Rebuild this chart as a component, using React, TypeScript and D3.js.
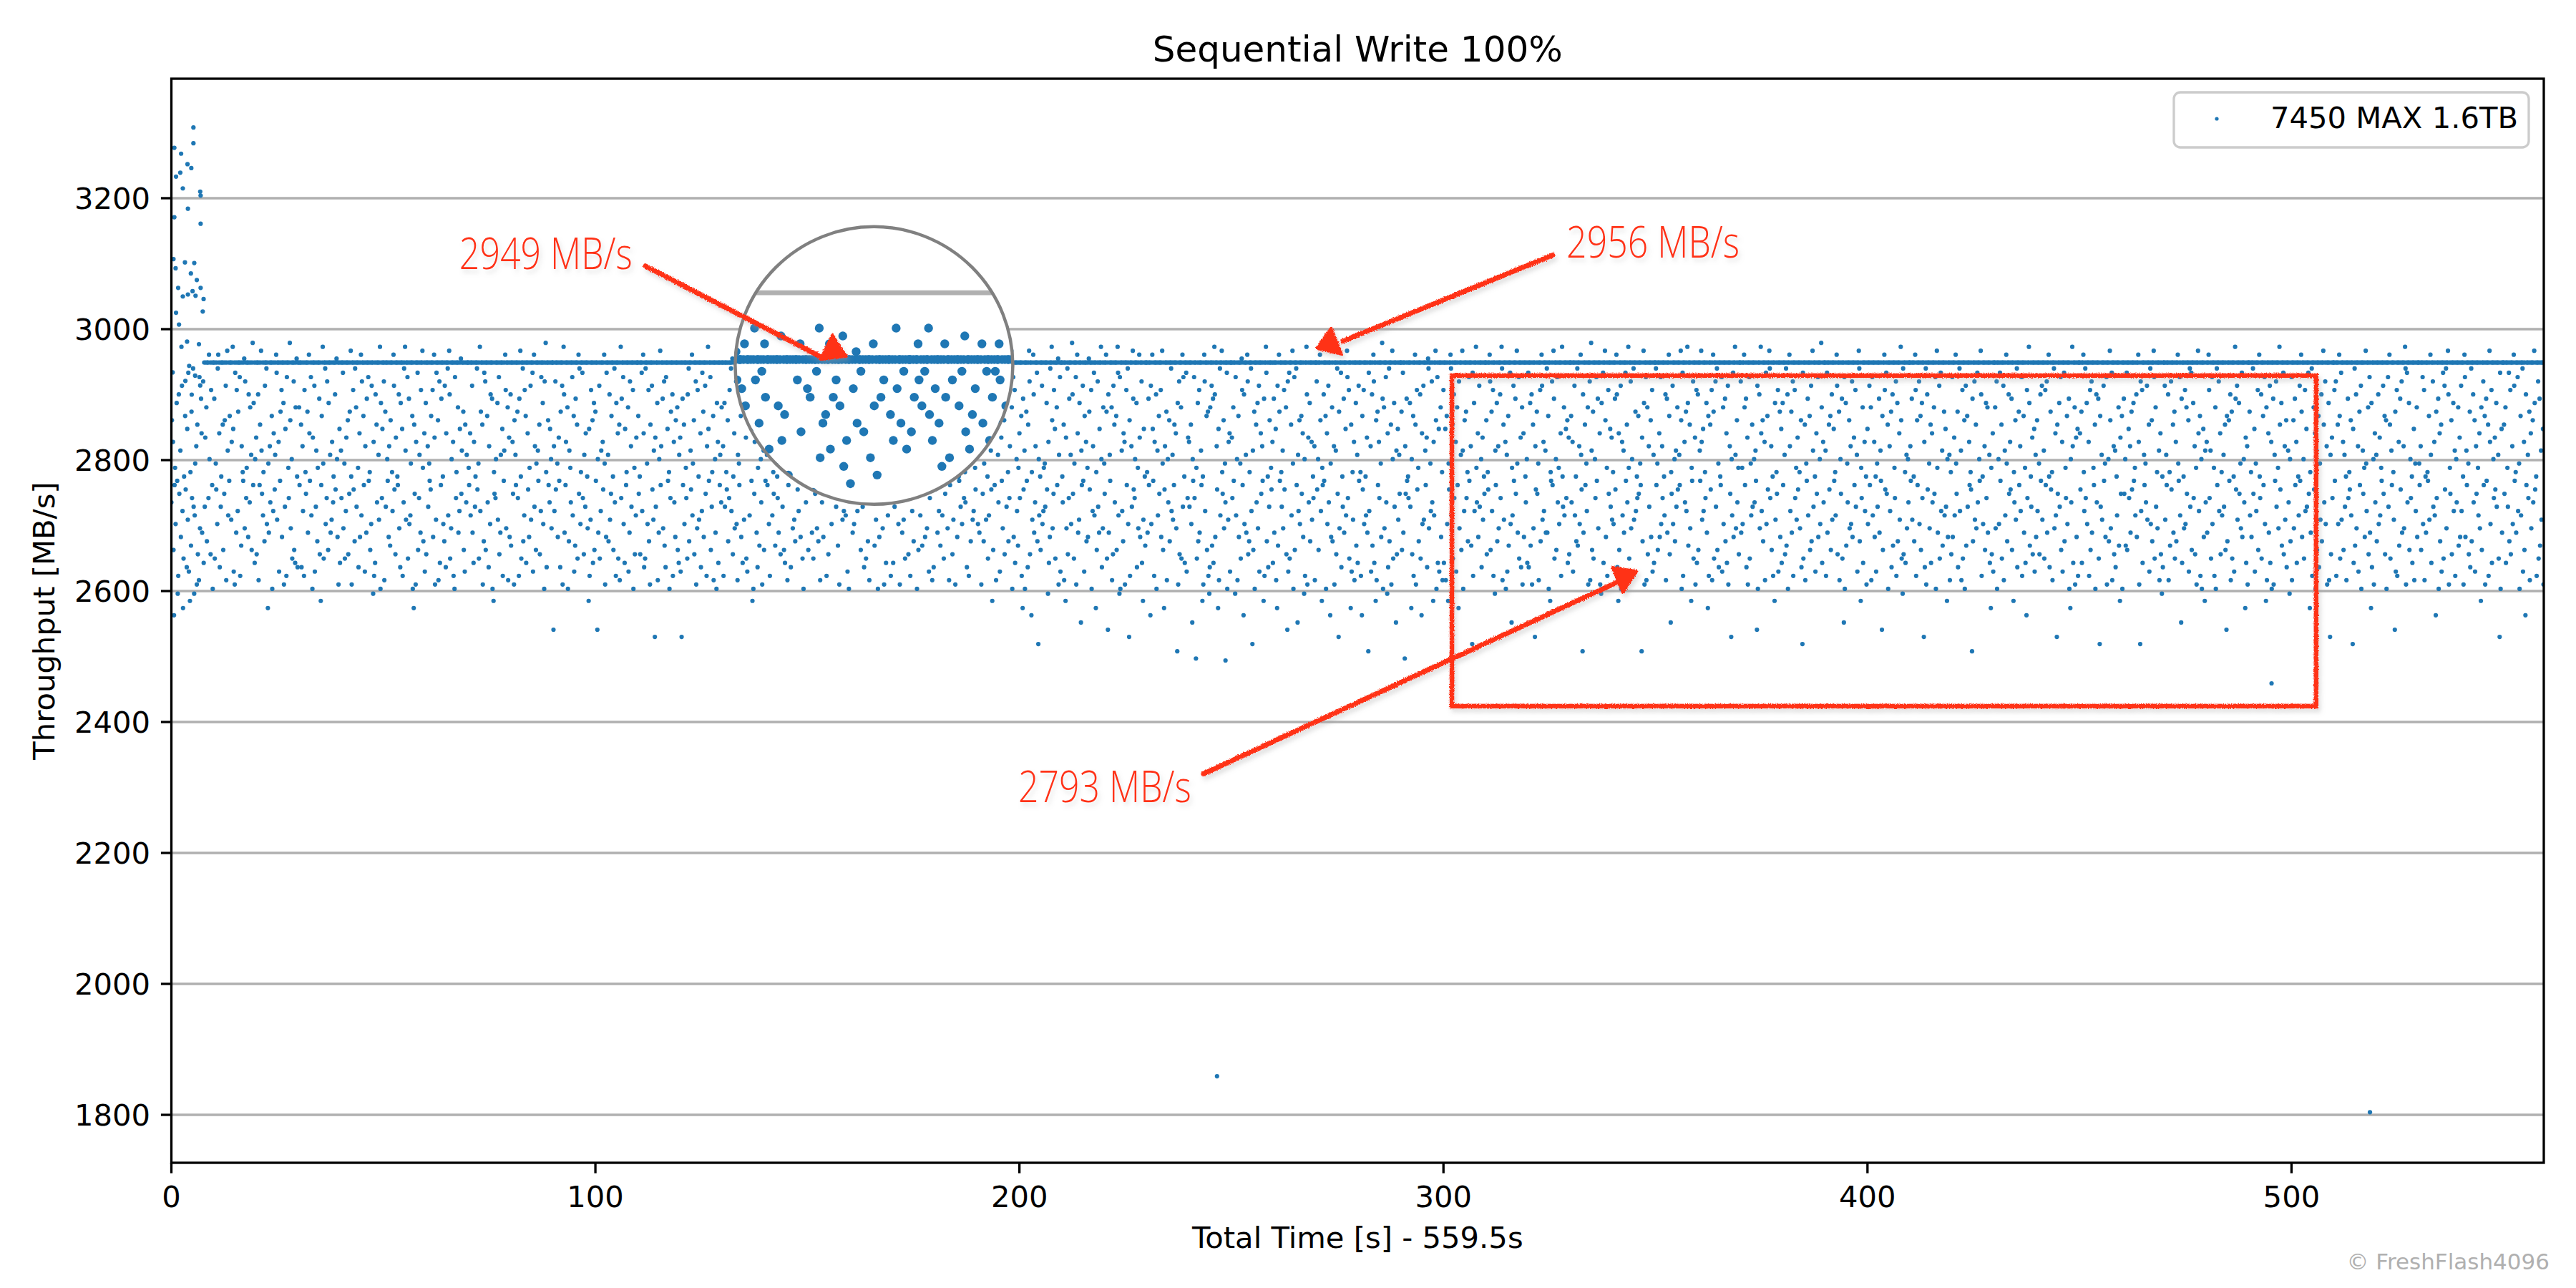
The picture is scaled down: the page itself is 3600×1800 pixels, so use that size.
import { useMemo } from 'react';
import * as d3 from 'd3';

const WIDTH = 3600;
const HEIGHT = 1800;

const chartTitle = 'Sequential Write 100%';
const xLabel = 'Total Time [s] - 559.5s';
const yLabel = 'Throughput [MB/s]';
const seriesLabel = '7450 MAX 1.6TB';
const credit = '© FreshFlash4096';

const xDomain: [number, number] = [0, 559.5];
const yDomain: [number, number] = [1726.8, 3382.5];
const xTicks = [0, 100, 200, 300, 400, 500];
const yTicks = [1800, 2000, 2200, 2400, 2600, 2800, 3000, 3200];

// One string per 10 s of run time, one character per sample (' ' = no sample).
//  ','              steady band, 2949 MB/s
//  '#$%&*+'         just above the band
//  'A'..'Z','a'..'z' main cloud, 2940 MB/s downwards in 6.6 MB/s steps
//  '0'..'9'         low tail, 2596 MB/s downwards in 11 MB/s steps
const SECONDS_PER_ROW = 10;
const BAND_VALUE = 2949;
const ABOVE_CODES = '#$%&*+';
const ABOVE_VALUES = [2985, 2979, 2973, 2967, 2961, 2955];
const MAIN_TOP = 2940;
const MAIN_STEP = 6.6;
const TAIL_TOP = 2596;
const TAIL_STEP = 11;

const throughputRows = [
  "fM Rq3bXk Ia0wGd Tn%Eh2sZ Lc uOjBv 1YpKe Ag0iW SyNr xCl HPm Dt,gQ,Jo,,e*V,rF,bz,",
  ",Hs,Wc,kA*,Pu,gZ,,Nq,dM,Ex,&Ti,aL,,jR,%Ov,yB,mF,hK,,Cw,pS,Ya,+lD,eX,,nG,fJ,Uq,$bI,tV,",
  "Qr,,Gx,bN,&Td,iY,oE,,Ak,2Wm,Sf,,Lz,hP,cU,*Bj,,Rv,aK,Fn,,Iy,gO,wC,,Xe,$Ml,Vs,,Dq,tJ,+Zu,",
  ",Jb,,Nu,Sh,wF,Yd,,Km,*Pa,Ci,zQ,,Ev,gT,oX,,Hr,1bL,%Ws,,Ak,eD,qI,,Um,jR,fZ,,Gc,+Vn,y,Ot,",
  "Te,,Bl,Ws,hQ,,Mr,dK,&Zy,,Fc,oA,Jg,,Xu,Pn,*iD,,Lb,vS,mH,,Ca,Yq,kE,,0Rw,tG,Nf,,Uj,%zI,eO,",
  ",Dx,Kg,,Va,nS,pM,,Yh,*Ec,rQ,,Zb,Gl,uI,,Ow,fA,%Tj,,Cs,Hk,iW,,Lz,2Nd,yR,,Bq,eU,mF,,&Xo,Pv,",
  "Ir,,Sg,Wa,cL,,Fn,*Qy,jB,,Mx,Dt,bH,,Zk,oE,uP,,Ai,&Gs,lV,,Rw,zC,eY,,Jm,hO,+dT,,Kq,vN,fU,,",
  ",Xb,Pi,,Em,tR,gZ,,Ac,Ws,%hK,,Ny,oB,Dq,,Lf,uS,kG,,Hz,1Yd,eV,,Ij,Cr,mU,,Ow,aT,*Fl,,Jx,Qn,",
  "Gp,,Rd,yM,Ub,,Ke,wH,&Zs,,Ao,iF,Lt,,Pc,nX,Ej,,Bv,*gS,qW,,Ta,Nr,hC,,Ik,zD,$Yu,,Mb,fO,Vl,,",
  ",5Sh,Dc,,Wn,Qa,uK,,Ey,%Gm,bR,,Jz,oT,Xf,,Ci,Lv,pH,,Ns,*dA,kY,,Be,rU,gP,,Zl,1Ow,jF,,Mt,Iq,",
  "Ka,,5Vm,Es,hT,,Rc,*Wy,nB,,Uo,Gj,dL,,Zq,Af,wI,,Ps,Nx,%eH,,Ck,tO,bY,,Jv,mD,Sg,,Fz,Xr,iQ,,",
  ",Ld,Zr,,Bh,*Pu,sA,,Wk,Fo,yN,,Ec,jT,6Qg,,Ix,mV,&bS,,Hl,Dp,uC,,Oa,Yz,eK,,Gw,Rf,nM,,Jq,tU,",
  "Qv,6,Hb,Nk,,Xe,sG,Ao,,Tc,*iW,Mr,,Dy,lF,Zj,,Pu,hB,Kn,,Ed,wS,%Oa,,Cq,gY,Lx,,Vm,zI,Rt,,bU,fJ,",
  ",Sw,Ig,,Yc,Mo,eF,,Ah,+rZ,Pl,,Dk,xU,Wb,,Ln,Gt,&jC,,Qs,vE,*Hi,,Na,1Kz,dR,,Bm,uX,Op,,Vf,yJ,Tq,",
  "Fa,,Ub,Lk,wS,,Ji,Yd,*pH,,Ze,mO,Cr,,Wg,Eq,tA,,Nx,bK,%Ru,,Gl,Pj,oV,,Xc,hT,Dn,,Is,zM,+Bf,,",
  ",Cq,*Ea,,Hm,Ks,%Bd,,Gl,Ao,*Dx,,Jf,Pn,Lb,,Ew,&Ir,Fa,,Mk,Nc,aT,,Bg,*Hp,Ry,,Ce,Dj,Oh,,Ai,%Kv,Gz,",
  "Fb,,*Jm,Dk,Ba,,Eh,&Lc,Iq,,Ng,Cu,+Gs,,Ao,Hx,Wd,,Kf,*Ep,Mj,,Dz,Bn,cR,,Fl,Iy,%Ct,,Gi,Ae,Jw,,",
  ",Ht,Dg,,*Bc,Ek,Ay,,%Fm,Ij,Cs,,Ga,Lr,*Dw,,Kh,Bo,Nb,,Ez,Aq,&Hi,,Jp,Fd,Cn,,Ml,*Gv,eA,,Ix,Du,",
  "Ac,,*Bm,Gh,Ep,,Ki,Hs,Vd,,%Cl,Ox,bT,,Fr,jQ,Wy,,Mn,*Za,Pg,,kL,Re,Yf,,uD,Nw,&Io,,Sj,hU,Xc,,",
  ",Gk,Rm,,Ay,Ld,oW,,Ej,$Zs,iP,,Tc,1Nq,Kb,,xH,*Uf,Dv,,Qa,lI,Mr,,Bg,+Yo,eS,,&Jz,Cn,Ft,,Vh,pX,",
  "Pe,,Lw,2Hc,Tz,,Ka,uN,&Dr,,3Yj,*Gm,fS,,Bo,7Vi,Zq,,Ek,hX,Wg,,Ic,0Rt,nA,,%Ml,dF,Os,,Jb,+yU,Cv,,",
  ",Zf,Nx,,1Ql,Ar,eH,,Uk,$Gd,sW,,Cy,*Pm,jI,,4Tb,Ea,vL,,Ro,Xn,+Kc,,Fz,hS,Bi,,2Yq,Dg,mO,,%Vu,lJ,",
  "Wd,,*Ks,5Gm,Ua,,Jx,rE,Nf,,Lq,%Bi,0Cz,,Th,oP,Ry,,Fb,Ak,6Mw,,Sg,&Hc,eV,,Iu,Xl,*Qn,,Dt,1jO,Zp,,",
  ",Ym,Hb,,3Ek,*Oa,wR,,Gz,Ti,Ld,,Fn,&Wq,2cS,,Kx,Vf,Mo,,Ah,Uj,bN,,Pl,8Iy,Dr,,Js,*gC,Zt,,Bv,eQ,",
  "Rg,,Nk,4Va,Ce,,9Xs,Io,Fm,,Tb,1Zy,*Dh,,Lq,Kw,0uJ,,Ep,Ht,%Gn,,Sc,2Ox,Ai,,&Yd,Ml,Wf,,Bz,jR,Pv,,",
  ",Qe,Ja,,0Ci,Vx,Ln,,Ws,+Fb,3Gk,,Um,*Dr,oY,,Ah,7Tq,Kz,,Nf,Il,Ev,,Pd,Sa,1Hw,,%Bo,Zu,gM,,Xc,Rt,",
  "Hm,,Ox,2Ep,*Ka,,Yg,Tl,Fc,,Jr,5Dv,Bs,,Ni,&Wz,Cq,,Ab,4Uh,Mk,,Ld,Pn,0Vw,,%Gy,Qf,Io,,Rj,Ze,Sx,,",
  ",Dc,Vq,,*Mh,1Xb,Ga,,Lz,Pk,Ef,,3Wn,Jo,%Sy,,Tr,Ad,6Kl,,Bu,Zg,Hm,,Oi,&Ce,Fs,,2Nv,Yj,Rx,,Ip,Ut,",
  "Ea,,Yw,3Lc,Fk,,Zi,Qm,8Bh,,Sv,Gp,*Dt,,1Mx,Kb,Re,,Wn,$Hz,Jl,,Cf,0Pu,Ao,,Ny,&Vs,Ig,,4Tr,Oj,Ud,,",
  ",Kq,Bm,,9Sd,Ha,Ze,,Ig,2Vr,Lw,,*Ny,Fc,Xo,,Gs,3Pk,Ej,,Tb,Qu,+Al,,Wh,Df,1Ri,,&Mz,Ct,Ov,,Jn,Yx,",
  "Ft,,Ox,Lk,1Wc,,*Ai,Ns,Ge,,Rv,Jb,2Dl,,Uq,&Tz,hM,,Ke,Yo,Ca,,Sp,7Bw,Ih,,%Xf,Pn,Eg,,Vu,Qj,Zd,,",
  ",Mr,Yc,,*Dq,Kh,Fw,,0Tb,Io,Sl,,Ge,%Ax,Nj,,Rz,Uv,Lp,,Bk,4Xi,Ea,,Hd,&Wm,Cs,,Qu,Jy,Pn,,Zf,Vt,",
  "Bu,,Ip,Gy,Nl,,6Sc,Kd,Wx,,Fo,*Ej,Rh,,Tm,Am,Lz,,1Ya,Db,&Hs,,Vq,Cf,Xk,,Pw,%Zg,Ji,,Oe,Mt,Qr,,",
  ",Lf,Rv,,Ei,Zo,Ap,,Sk,*Uc,8Gm,,Nb,Wh,Jy,,Dx,$Tq,Ks,,Ve,Ca,Hl,,Py,0Iz,Bt,,&Mn,Xw,Fd,,Og,Qj,",
  "Yk,,Hc,*Gu,1Pq,,Ez,Ri,Tm,,Ba,Nf,%Xs,,Dl,Vw,Aj,,Kh,Ze,Ld,,Wb,8Qo,&Iy,,Cx,Jr,Sg,,Mn,Fv,Ut,,",
  ",Ab,Wq,,Pn,Ck,Se,,Zi,Gx,Hm,,*Lr,4Yd,Ek,,Vo,Tg,Jc,,Ub,&Mz,Bw,,Rf,Kh,%Ip,,Nl,1Xa,Ds,,Qy,Ft,",
  "Gq,,Ta,&Rj,Oh,,Ye,Im,2Lw,,Nc,Fx,*Ks,,Dg,Aq,Wu,,Zb,Cv,Jk,,Ho,Pt,Ey,,Sd,6Vi,Bn,,%Ul,Mf,Xr,,",
  ",Dm,Xk,,*Jb,Hu,Qy,,Cs,Wi,Ng,,Vf,Ta,5Ez,,Gl,%Ph,Mo,,Rx,Bk,Lc,,&Ae,Sq,Zw,,1Ij,Yd,Fv,,Kn,Ot,",
  "Ib,,Ur,Ap,Gz,,*Sh,Km,Dw,,Fe,Xj,Qc,,Yl,Mu,7Bs,,Nx,Wa,Hi,,Lq,Eo,&Tg,,Zv,Pd,Cn,,Vk,$Jt,Rf,,",
  ",Tw,Bm,,Nc,Lq,Gj,,Oa,Yi,*Er,,Kx,Vd,Hs,,4Cz,Ip,Wf,,Ml,Sk,Dn,,Qb,Fg,Uv,,&Ao,1Xe,Jt,,Rh,Zy,",
  "Ok,,Eb,Jx,Ci,,Rn,Zv,Wg,,Hm,Ta,5Lq,,*Fc,Bd,Nz,,Sh,Ku,Gp,,Xe,Dw,Io,,Pj,%Ms,0Ar,,Yt,Ul,Vf,,",
  ",Sa,Hj,,Zo,*Fw,Mb,,Dk,Lq,Ie,,6Ru,Ay,Gc,,Wl,Nt,Pf,,Jd,Cz,&Xm,,Es,Bh,Tp,,Ki,Og,1Vn,,Ux,Yr,",
  "Cn,,Qi,*Wd,Ku,,Ah,Tx,Fs,,Mz,Ep,Lg,,Rb,Yc,8Ho,,Dj,Nl,Bf,,Va,&Gw,Zk,,Sq,Ie,Jm,,Ut,2Xr,Pv,,",
  ",Jl,Dz,,Vk,Ba,Ns,,Ex,Ti,*Wo,,Gd,Rc,Hq,,1Yf,Mj,Au,,Kb,Sh,Cw,,Lm,Xt,3Fe,,%Ip,Zg,Qr,,Ov,Un,",
  "Mh,,Wr,Ga,Ej,,Ts,Fb,Dm,,*Zu,Kc,Yx,,Al,Pi,6Nd,,Ig,Cq,Rv,,Bo,Xe,Lk,,Hz,2Vf,%St,,Jy,Qn,Ow,,",
  ",Pc,Kt,,*Yh,Ae,Ik,,Rw,Fq,Dm,,Xb,Nz,Gf,,Hs,7Lg,Uj,,Ea,Wn,Cy,,Vo,&Ml,Bx,,Sr,Tu,Zi,,Jp,1Qd,",
  "Lz,,Hd,Vp,Bq,,Oe,Sm,Kc,,Ia,Xi,Gn,,*Ry,7Dh,Ft,,Ub,Wf,Ej,,Nv,Ak,Mo,,&Cs,Jg,Yl,,Tx,Pr,0Zu,,",
  ",Ej,Ub,,Gx,Yp,Dc,,Nm,Ks,Ro,,*Wa,Ci,4Ht,,Zl,Fk,Jd,,Mv,Ag,Bq,,Ie,Sr,Xy,,&Ph,Lw,Vz,,On,1Tf,",
  "Rm,,*Fe,Ts,Ck,,Xw,Jz,Ab,,Dh,Pr,Yi,,Ug,Nq,5Lo,,Ma,Gx,Ks,,Zv,%Hc,Ej,,Id,Wl,Bn,,Vf,2Qt,Sy,,",
  ",Ki,Yn,,Ad,Ov,Wh,,Fq,*Ze,Gs,,Lb,Ck,1Jx,,Pm,Et,Rz,,Hy,Ua,Dg,,Xl,%Nc,Ip,,Br,Sj,Mu,,Tf,0Vo,",
  "Cx,,Ml,Hb,Rt,,Zi,Ea,*Kn,,Vs,Fh,Og,,Bd,2Ym,Aw,,Jc,Pz,Tq,,Lu,Wj,Go,,&Nf,Dk,Sy,,Ix,6Ur,Qe,,",
  ",Fa,Dw,,Nk,*Ls,Bj,,Rq,Ug,Zx,,He,Yc,Mi,,7Ot,Ap,Gl,,Sv,Kb,Ez,,Td,Xn,&Wh,,Jr,Cm,2Iu,,Vy,Pf,",
  "Uo,,Gk,Qi,Xa,,Ed,Lr,Mz,,Cg,*Ns,Tb,,Yj,5Kv,Fw,,Rp,Hc,Dm,,Sl,%Ay,Bf,,Iq,Ve,Zt,,Ox,Wh,Jn,,",
  ",Wb,Sq,,Ck,Fx,Zm,,Ya,Lj,*Ut,,Dg,Ri,3Ke,,Hz,Po,Nv,,Bs,Ec,Al,,&Gy,Xd,Mr,,Ih,Tw,Vf,,Jp,Qn,",
  "Eh,,Zy,*Cn,Tb,,Wr,Ku,Ao,,Gf,Mv,Sd,,Xi,Pl,1Jq,,Db,Ly,Ha,,Nw,&Rk,Ft,,Ve,Qc,Ig,,Us,6Bz,Om,,",
  ",Nd,Jt,,Xg,Bo,Fr,,Sk,*Ea,Ym,,Ch,Wz,Li,,Av,Rq,3Gb,,Ue,Kx,Pl,,Mf,&Ic,Zw,,Ds,Hp,Tj,,Oy,Vn,",
];

// start-up burst before the drive settles [time s, MB/s]
const startupBurst: [number, number][] = [
  [0.7, 3277], [2.3, 3268], [5.2, 3308], [5.2, 3284], [3.8, 3252], [4.7, 3246],
  [2.1, 3239], [1.1, 3233], [2.7, 3215], [6.8, 3210], [6.9, 3204], [3.9, 3184],
  [0.7, 3171], [6.9, 3161], [0.5, 3107], [3.2, 3102], [5.4, 3101], [1.0, 3093],
  [4.6, 3085], [6.0, 3075], [1.6, 3063], [6.9, 3063], [2.7, 3050], [3.9, 3053],
  [5.0, 3058], [5.7, 3051], [7.6, 3046], [1.1, 3025], [7.4, 3027], [1.8, 3007],
  [3.7, 2981], [6.5, 2977], [0.3, 2934], [4.2, 2944], [3.3, 2921], [5.6, 2929],
  [6.8, 2914], [4.8, 2900],
];

const outliers: [number, number][] = [
  [246.6, 1859], [518.5, 1804], [495.3, 2459], [248.6, 2494],
];

// hand drawn call-outs, in data units
const callouts = [
  {
    label: '2949 MB/s', at: [67.9, 3091.9], from: [111.8, 3096.3], to: [153.6, 2956.4],
    head: [[155.9, 2991.1], [153.1, 2953.9], [159.1, 2958.3]],
  },
  {
    label: '2956 MB/s', at: [329.0, 3109.6], from: [325.8, 3113.2], to: [276.3, 2981.6],
    head: [[273.5, 3001.2], [270.1, 2970.6], [276.0, 2961.8]],
  },
  {
    label: '2793 MB/s', at: [199.7, 2278.1], from: [243.4, 2320.8], to: [341.3, 2614.4],
    head: [[339.9, 2635.9], [345.6, 2630.4], [342.3, 2597.7]],
  },
];
const highlight = { t0: 302.0, t1: 505.8, v0: 2424.2, v1: 2929.1 };
const lens = { t: 165.7, v: 2944.4, radius: 194, zoom: 2 };

const BLUE = '#1f77b4';
const RED = '#ff3116';
const FONT = '"DejaVu Sans", sans-serif';

const decodeSample = (ch: string) => {
  if (ch === ',') return BAND_VALUE;
  const above = ABOVE_CODES.indexOf(ch);
  if (above >= 0) return ABOVE_VALUES[above];
  if (ch >= '0' && ch <= '9') return TAIL_TOP - Number(ch) * TAIL_STEP;
  const code = ch.charCodeAt(0);
  const idx = code >= 97 ? 26 + code - 97 : code - 65;
  return MAIN_TOP - idx * MAIN_STEP;
};

const App = () => {
  const x = d3.scaleLinear().domain(xDomain).range([239.5, 3555]);
  const y = d3.scaleLinear().domain(yDomain).range([1625, 110]);
  const [x0, x1] = x.range();
  const [yb, yt] = y.range();

  const samples = useMemo(() => {
    const out: [number, number][] = [];
    throughputRows.forEach((row, k) => {
      const dt = SECONDS_PER_ROW / row.length;
      for (let j = 0; j < row.length; j++) {
        const ch = row[j];
        if (ch === ' ') continue;
        const t = k * SECONDS_PER_ROW + j * dt;
        if (t > xDomain[1]) continue;
        out.push([t, decodeSample(ch)]);
      }
    });
    return out.concat(startupBurst, outliers);
  }, []);

  const cx = x(lens.t);
  const cy = y(lens.v);
  const reach = lens.radius / lens.zoom + 6;
  const lensSamples = samples.filter(
    ([t, v]) => Math.abs(x(t) - cx) < reach && Math.abs(y(v) - cy) < reach
  );

  const grid = (key: string) => (
    <g key={key}>
      {yTicks.map(v => (
        <line key={v} x1={x0} x2={x1} y1={y(v)} y2={y(v)} stroke="#b0b0b0" strokeWidth={3.3} />
      ))}
    </g>
  );

  const dots = (data: [number, number][], r: number) =>
    data.map(([t, v], i) => <circle key={i} cx={x(t)} cy={y(v)} r={r} fill={BLUE} />);

  return (
    <svg
      width={WIDTH}
      height={HEIGHT}
      viewBox={`0 0 ${WIDTH} ${HEIGHT}`}
      style={{ position: 'absolute', left: 0, top: 0, background: '#fff' }}
      fontFamily={FONT}
    >
      <defs>
        <clipPath id="plotArea">
          <rect x={x0} y={yt} width={x1 - x0} height={yb - yt} />
        </clipPath>
        <clipPath id="lensClip">
          <circle cx={cx} cy={cy} r={lens.radius} />
        </clipPath>
        <filter id="marker" filterUnits="userSpaceOnUse" x="0" y="0" width={WIDTH} height={HEIGHT}>
          <feTurbulence type="fractalNoise" baseFrequency="0.7" numOctaves="2" seed="7" result="noise" />
          <feDisplacementMap in="SourceGraphic" in2="noise" scale="4" xChannelSelector="R" yChannelSelector="G" result="rough" />
          <feGaussianBlur in="rough" stdDeviation="3" result="blur" />
          <feOffset in="blur" dx="3" dy="5" result="offset" />
          <feColorMatrix in="offset" type="matrix"
            values="0 0 0 0 0.35  0 0 0 0 0.35  0 0 0 0 0.35  0 0 0 0.35 0" result="shadow" />
          <feMerge>
            <feMergeNode in="shadow" />
            <feMergeNode in="rough" />
          </feMerge>
        </filter>
        <filter id="textShadow" filterUnits="userSpaceOnUse" x="0" y="0" width={WIDTH} height={HEIGHT}>
          <feGaussianBlur in="SourceAlpha" stdDeviation="3" result="blur" />
          <feOffset in="blur" dx="3" dy="5" result="offset" />
          <feColorMatrix in="offset" type="matrix"
            values="0 0 0 0 0.35  0 0 0 0 0.35  0 0 0 0 0.35  0 0 0 0.3 0" result="shadow" />
          <feMerge>
            <feMergeNode in="shadow" />
            <feMergeNode in="SourceGraphic" />
          </feMerge>
        </filter>
      </defs>

      <rect width={WIDTH} height={HEIGHT} fill="#fff" />

      {grid('grid')}

      <g clipPath="url(#plotArea)">{dots(samples, 3.1)}</g>

      {/* magnifier */}
      <g clipPath="url(#lensClip)">
        <circle cx={cx} cy={cy} r={lens.radius} fill="#fff" />
        <g transform={`translate(${cx},${cy}) scale(${lens.zoom}) translate(${-cx},${-cy})`}>
          {grid('lensGrid')}
          {dots(lensSamples, 3.1)}
        </g>
      </g>
      <circle cx={cx} cy={cy} r={lens.radius} fill="none" stroke="#808080" strokeWidth={4.5} />

      {/* spines */}
      <rect x={x0} y={yt} width={x1 - x0} height={yb - yt} fill="none" stroke="#000" strokeWidth={3.3} />

      {/* y axis */}
      {yTicks.map(v => (
        <g key={v}>
          <line x1={x0 - 14.6} x2={x0} y1={y(v)} y2={y(v)} stroke="#000" strokeWidth={3.3} />
          <text x={x0 - 29.5} y={y(v) + 15} textAnchor="end" fontSize={41.7}>{v}</text>
        </g>
      ))}
      {/* x axis */}
      {xTicks.map(t => (
        <g key={t}>
          <line x1={x(t)} x2={x(t)} y1={yb} y2={yb + 14.6} stroke="#000" strokeWidth={3.3} />
          <text x={x(t)} y={1687} textAnchor="middle" fontSize={41.7}>{t}</text>
        </g>
      ))}

      <text x={(x0 + x1) / 2} y={1744} textAnchor="middle" fontSize={41.7}>{xLabel}</text>
      <text
        transform={`translate(76,${(yt + yb) / 2}) rotate(-90)`}
        textAnchor="middle"
        fontSize={41.7}
      >
        {yLabel}
      </text>
      <text x={(x0 + x1) / 2} y={86} textAnchor="middle" fontSize={50}>{chartTitle}</text>

      {/* legend */}
      <rect x={3038} y={129} width={496} height={77} rx={9} fill="#fff" fillOpacity={0.8}
        stroke="#cccccc" strokeWidth={3.3} />
      <circle cx={3098} cy={166} r={2.6} fill={BLUE} />
      <text x={3173} y={179} fontSize={41.7}>{seriesLabel}</text>

      {/* red call-outs */}
      <g filter="url(#marker)">
        <rect
          x={x(highlight.t0)} y={y(highlight.v1)}
          width={x(highlight.t1) - x(highlight.t0)} height={y(highlight.v0) - y(highlight.v1)}
          fill="none" stroke={RED} strokeWidth={6.5}
        />
        {callouts.map(c => (
          <g key={c.label}>
            <line x1={x(c.from[0])} y1={y(c.from[1])} x2={x(c.to[0])} y2={y(c.to[1])}
              stroke={RED} strokeWidth={7} strokeLinecap="round" />
            <polygon points={c.head.map(([t, v]) => `${x(t)},${y(v)}`).join(' ')}
              fill={RED} stroke={RED} strokeWidth={4} strokeLinejoin="round" />
          </g>
        ))}
      </g>
      <g filter="url(#textShadow)">
        {callouts.map(c => (
          <text key={c.label} x={x(c.at[0])} y={y(c.at[1])} fill={RED}
            fontFamily='"Open Sans", "Noto Sans", sans-serif' fontWeight={300} fontSize={60}
            textLength={242} lengthAdjust="spacingAndGlyphs">
            {c.label}
          </text>
        ))}
      </g>

      <text x={3563} y={1774} textAnchor="end" fontSize={31} fill="#b0b0b0">{credit}</text>
    </svg>
  );
};

export default App;
